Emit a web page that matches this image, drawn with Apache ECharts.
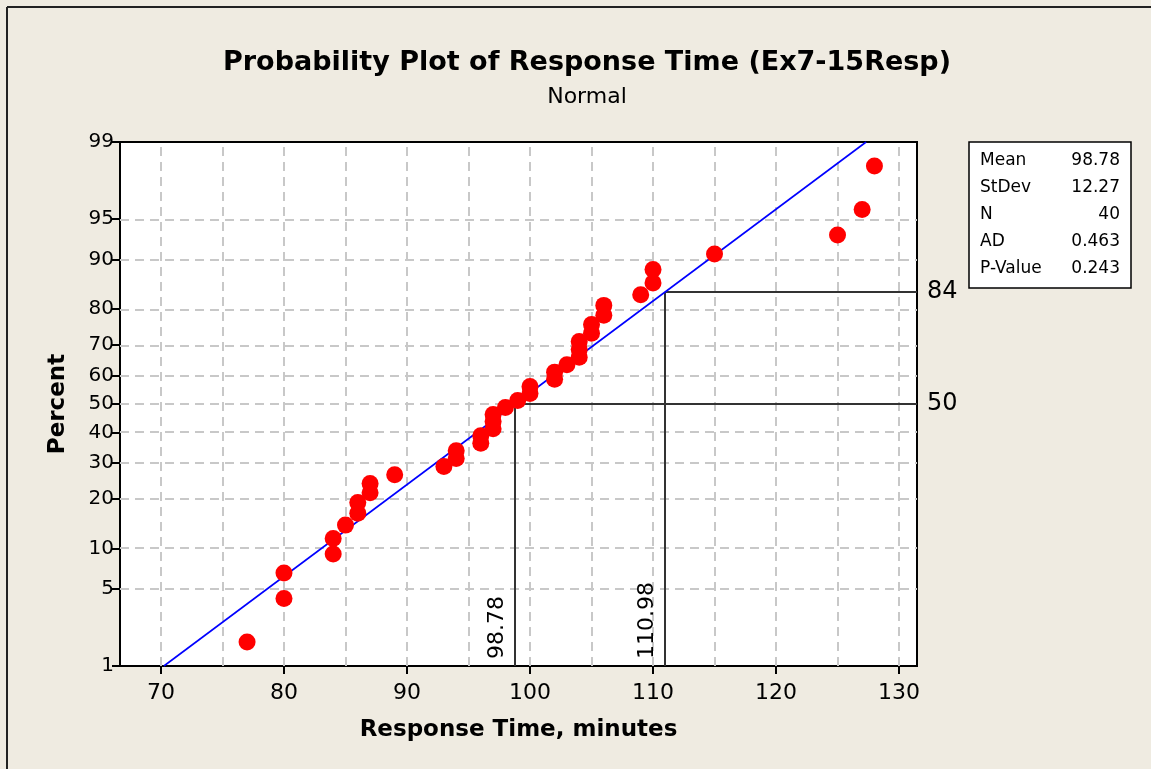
<!DOCTYPE html>
<html><head><meta charset="utf-8">
<script src="https://cdn.jsdelivr.net/npm/echarts@6/dist/echarts.min.js"></script>
<style>html,body{margin:0;padding:0;background:#EFEBE1}#c{width:1151px;height:769px}</style>
</head><body><div id="c"></div>
<script>
// ---- data ----
const responseTimes = [77,80,80,84,84,85,86,86,87,87,89,93,94,94,96,96,97,97,97,98,99,100,100,102,102,103,104,104,104,105,105,106,106,109,110,110,115,125,127,128];
const percentTicks = [1,5,10,20,30,40,50,60,70,80,90,95,99];
const percentGrid = [5,10,20,30,40,50,60,70,80,90,95];
const xTicks = [70,80,90,100,110,120,130];
const xGrid = [70,75,80,85,90,95,100,105,110,115,120,125,130];
const statLabels = ['Mean','StDev','N','AD','P-Value'];
const statValues = ['98.78','12.27','40','0.463','0.243'];
const fitMean = 98.78, fitStDev = 12.27;
const refPercents = [50, 84];
const refValues = [98.78, 110.98];
const xMin = 66.67, xMax = 131.46;

// inverse normal CDF (Acklam)
function normInv(p){
  const a=[-3.969683028665376e+01,2.209460984245205e+02,-2.759285104469687e+02,1.383577518672690e+02,-3.066479806614716e+01,2.506628277459239e+00];
  const b=[-5.447609879822406e+01,1.615858368580409e+02,-1.556989798598866e+02,6.680131188771972e+01,-1.328068155288572e+01];
  const c=[-7.784894002430293e-03,-3.223964580411365e-01,-2.400758277161838e+00,-2.549732539343734e+00,4.374664141464968e+00,2.938163982698783e+00];
  const d=[7.784695709041462e-03,3.224671290700398e-01,2.445134137142996e+00,3.754408661907416e+00];
  const pl=0.02425, ph=1-pl; let q,r;
  if(p<pl){q=Math.sqrt(-2*Math.log(p));return (((((c[0]*q+c[1])*q+c[2])*q+c[3])*q+c[4])*q+c[5])/((((d[0]*q+d[1])*q+d[2])*q+d[3])*q+1);}
  if(p>ph){q=Math.sqrt(-2*Math.log(1-p));return -(((((c[0]*q+c[1])*q+c[2])*q+c[3])*q+c[4])*q+c[5])/((((d[0]*q+d[1])*q+d[2])*q+d[3])*q+1);}
  q=p-0.5;r=q*q;return (((((a[0]*r+a[1])*r+a[2])*r+a[3])*r+a[4])*r+a[5])*q/(((((b[0]*r+b[1])*r+b[2])*r+b[3])*r+b[4])*r+1);
}
const zOf = pct => normInv(pct/100);
const yMin = zOf(1), yMax = zOf(99);
const n = responseTimes.length;
const points = responseTimes.map((v,i)=>[v, normInv((i+1-0.3)/(n+0.4))]);
const tickZ = percentTicks.map(zOf);

const FONT = 'DejaVu Sans';
const gridStyle = {color:'#C8C8C8', width:2, type:[9,6]};

const markGrid = [];
xGrid.forEach(v=>markGrid.push({xAxis:v}));
percentGrid.forEach(p=>markGrid.push({yAxis:zOf(p)}));

const refMark = [];
refValues.forEach((v,k)=>{
  const zp = zOf(refPercents[k]);
  refMark.push([{coord:[v, yMin], label:{show:true, formatter:String(v.toFixed(2)), position:'insideStartTop', distance:7, fontSize:22, color:'#000', fontFamily:FONT}}, {coord:[v, zp]}]);
  refMark.push([{coord:[v, zp], label:{show:true, formatter:String(refPercents[k]), position:'end', distance:10, fontSize:24, color:'#000', fontFamily:FONT}}, {coord:[xMax, zp]}]);
});

const chart = echarts.init(document.getElementById('c'), null, {renderer:'canvas'});
const graphics = [
  {type:'line', shape:{x1:7,y1:7,x2:1151,y2:7}, style:{stroke:'#222', lineWidth:2}},
  {type:'line', shape:{x1:7,y1:7,x2:7,y2:769}, style:{stroke:'#222', lineWidth:2}},
  {type:'rect', shape:{x:969,y:142,width:162,height:146}, style:{fill:'#fff', stroke:'#000', lineWidth:1.5}}
];
statLabels.forEach((s,i)=>{
  const y = 161 + i*27;
  graphics.push({type:'text', style:{text:s, x:980, y:y, font:'17px "'+FONT+'"', fill:'#000', textAlign:'left', textVerticalAlign:'middle'}});
  graphics.push({type:'text', style:{text:statValues[i], x:1120, y:y, font:'17px "'+FONT+'"', fill:'#000', textAlign:'right', textVerticalAlign:'middle'}});
});

chart.setOption({
  animation:false,
  backgroundColor:'#EFEBE1',
  title:{
    text:'Probability Plot of Response Time (Ex7-15Resp)',
    subtext:'Normal',
    left:582, top:44, textAlign:'center', itemGap:10,
    textStyle:{fontFamily:FONT, fontWeight:'bold', fontSize:27, color:'#000'},
    subtextStyle:{fontFamily:FONT, fontSize:22, color:'#000'}
  },
  grid:{left:120, right:234, top:142, bottom:103, show:true, backgroundColor:'#fff', borderColor:'#000', borderWidth:2},
  xAxis:{
    type:'value', min:xMin, max:xMax,
    name:'Response Time, minutes', nameLocation:'middle', nameGap:53,
    nameTextStyle:{fontFamily:FONT, fontWeight:'bold', fontSize:23, color:'#000'},
    axisLine:{show:true, onZero:false, lineStyle:{color:'#000', width:2}},
    axisTick:{show:true, length:8, customValues:xTicks, lineStyle:{color:'#000', width:2}},
    axisLabel:{customValues:xTicks, fontFamily:FONT, fontSize:22, color:'#000', margin:16},
    splitLine:{show:false}
  },
  yAxis:{
    type:'value', min:yMin, max:yMax,
    name:'Percent', nameLocation:'middle', nameGap:50, nameRotate:90,
    nameTextStyle:{fontFamily:FONT, fontWeight:'bold', fontSize:23, color:'#000'},
    axisLine:{show:true, onZero:false, lineStyle:{color:'#000', width:2}},
    axisTick:{show:true, length:8, customValues:tickZ, lineStyle:{color:'#000', width:2}},
    axisLabel:{customValues:tickZ, fontFamily:FONT, fontSize:20, color:'#000', margin:6,
      formatter:function(v){let best=0,bd=1e9;tickZ.forEach((z,i)=>{const d=Math.abs(z-v);if(d<bd){bd=d;best=i;}});return String(percentTicks[best]);}},
    splitLine:{show:false}
  },
  graphic:graphics,
  series:[
    {type:'line', name:'grid', data:[], silent:true, z:1,
      markLine:{z:1, silent:true, symbol:['none','none'], label:{show:false}, lineStyle:gridStyle, data:markGrid, animation:false}},
    {type:'line', name:'ref', data:[], z:2,
      markLine:{z:2, silent:true, symbol:['none','none'], lineStyle:{color:'#333', width:2, type:'solid'}, data:refMark, animation:false}},
    {type:'line', name:'fit', data:[[fitMean+fitStDev*yMin, yMin],[fitMean+fitStDev*yMax, yMax]], showSymbol:false, symbol:'none',
      lineStyle:{color:'#0000FF', width:1.6}, z:5, clip:true},
    {type:'scatter', name:'data', data:points, symbolSize:17, itemStyle:{color:'#FF0000', opacity:1}, z:10}
  ]
});
</script></body></html>
